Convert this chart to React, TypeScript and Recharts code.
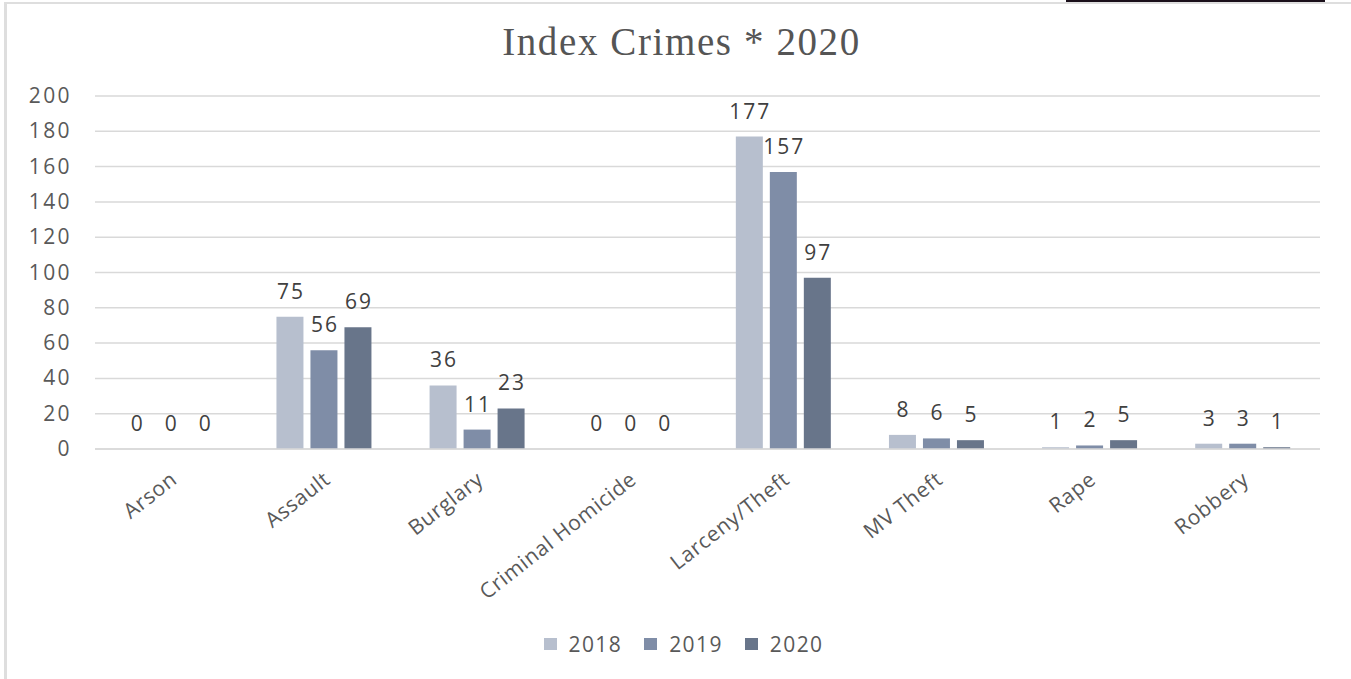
import React from "react";
import { BarChart, Bar, XAxis, YAxis, CartesianGrid, Legend, LabelList } from "recharts";

const categories = ["Arson", "Assault", "Burglary", "Criminal Homicide", "Larceny/Theft", "MV Theft", "Rape", "Robbery"];
const values2018 = [0, 75, 36, 0, 177, 8, 1, 3];
const values2019 = [0, 56, 11, 0, 157, 6, 2, 3];
const values2020 = [0, 69, 23, 0, 97, 5, 5, 1];
const yTicks = [0, 20, 40, 60, 80, 100, 120, 140, 160, 180, 200];
const seriesNames = ["2018", "2019", "2020"];
const seriesColors = ["#b7bfce", "#7f8da7", "#68758a"];

const data = categories.map((c, i) => ({
  name: c,
  "2018": values2018[i],
  "2019": values2019[i],
  "2020": values2020[i],
}));

const FONT = "'Open Sans', sans-serif";

const XTick = (props: any) => {
  const { x, y, payload } = props;
  return (
    <g transform={`translate(${x + 7},${y + 25})`}>
      <text
        x={0}
        y={0}
        textAnchor="end"
        transform="rotate(-38)"
        fill="#595959"
        fontSize={21}
        letterSpacing={0.7}
        fontFamily={FONT}
      >
        {payload.value}
      </text>
    </g>
  );
};

const BarValueLabel = (props: any) => {
  const { x, y, width, value } = props;
  if (x == null || y == null) return null;
  return (
    <text
      x={Number(x) + Number(width) / 2 + 1}
      y={Number(y) - 18}
      textAnchor="middle"
      fill="#404040"
      fontSize={21}
      fontFamily={FONT}
      letterSpacing={2}
    >
      {String(value)}
    </text>
  );
};

const YTick = (props: any) => {
  const { x, y, payload } = props;
  return (
    <text
      x={x + 1}
      y={y}
      dy={7}
      textAnchor="end"
      fill="#595959"
      fontSize={21}
      fontFamily={FONT}
      letterSpacing={2.4}
    >
      {payload.value}
    </text>
  );
};

const LegendContent = () => (
  <div style={{ display: "flex", justifyContent: "center", fontFamily: FONT, paddingLeft: 16 }}>
    {seriesNames.map((n, i) => (
      <div key={n} style={{ display: "flex", alignItems: "center", marginRight: i < 2 ? 22 : 0 }}>
        <span style={{ width: 13, height: 12, background: seriesColors[i], display: "inline-block", marginRight: 12 }} />
        <span style={{ fontSize: 21, color: "#595959", letterSpacing: 1.4 }}>{n}</span>
      </div>
    ))}
  </div>
);

export default function App() {
  return (
    <div style={{ position: "absolute", left: 0, top: 0, width: 1351, height: 679, background: "#fff", overflow: "hidden" }}>
      <div style={{ position: "absolute", left: 1066, top: 0, width: 259, height: 2, background: "#1a0f1a" }} />
      <div
        style={{
          position: "absolute",
          left: 4,
          top: 2,
          width: 1347,
          height: 677,
          borderLeft: "3px solid #dedede",
          borderTop: "2px solid #dedede",
        }}
      />
      <div
        style={{
          position: "absolute",
          left: 0,
          width: 1351,
          top: 19,
          textAlign: "center",
          fontFamily: "'Liberation Serif', serif",
          fontSize: 39,
          letterSpacing: 1.6,
          color: "#555555",
          paddingLeft: 6,
        }}
      >
        Index Crimes * 2020
      </div>
      <div style={{ position: "absolute", left: 0, top: 0 }}>
        <BarChart
          width={1351}
          height={679}
          data={data}
          margin={{ top: 96, right: 31, left: 0, bottom: 100 }}
          barCategoryGap="18.5%"
          barGap={7}
        >
          <CartesianGrid vertical={false} stroke="#d9d9d9" strokeWidth={1.5} />
          <XAxis
            dataKey="name"
            height={130}
            interval={0}
            tick={<XTick />}
            tickLine={false}
            axisLine={{ stroke: "#d9d9d9", strokeWidth: 1.5 }}
          />
          <YAxis
            width={95}
            domain={[0, 200]}
            ticks={yTicks}
            interval={0}
            axisLine={false}
            tickLine={false}
            tickSize={6}
            tickMargin={18}
            tick={<YTick />}
          />
          <Legend
            verticalAlign="middle"
            align="center"
            layout="horizontal"
            wrapperStyle={{ top: 630, left: 0, width: 1351 }}
            content={<LegendContent />}
          />
          {seriesNames.map((n, i) => (
            <Bar key={n} dataKey={n} fill={seriesColors[i]} minPointSize={0.01} isAnimationActive={false}>
              <LabelList dataKey={n} position="top" content={<BarValueLabel />} />
            </Bar>
          ))}
        </BarChart>
      </div>
    </div>
  );
}
